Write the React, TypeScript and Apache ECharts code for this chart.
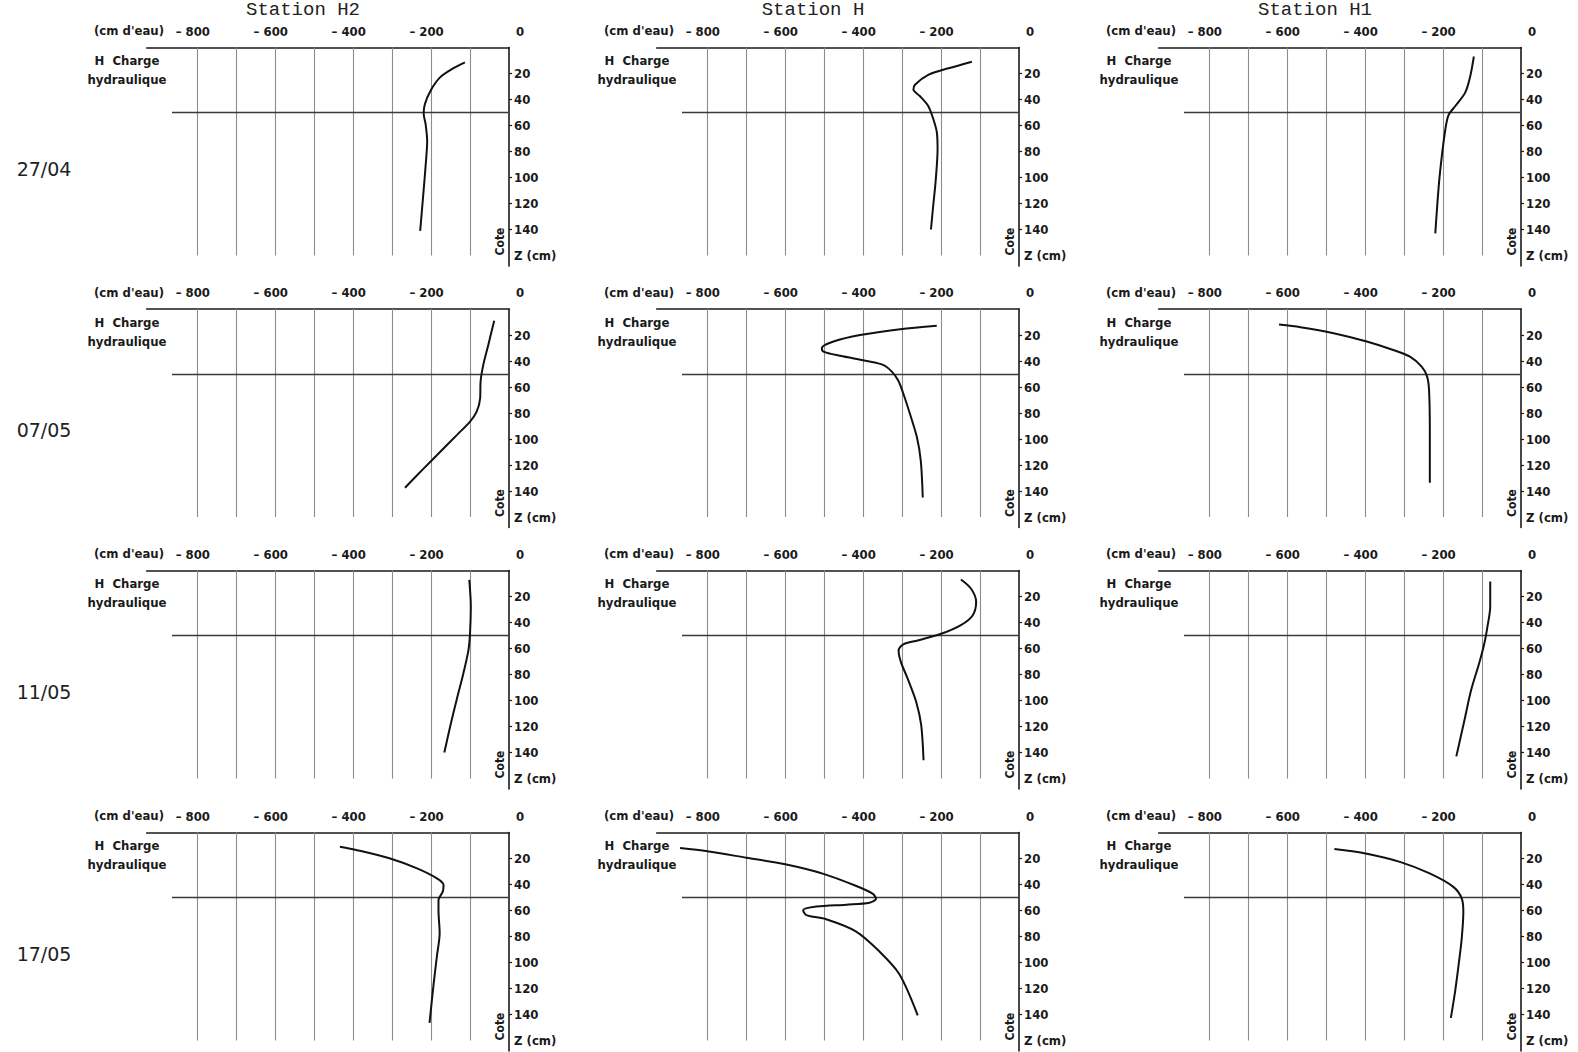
import React, { useEffect, useRef } from "react";
import * as echarts from "echarts";

// ---------- data ----------
const stations = ["Station H2", "Station H", "Station H1"];
const dates = ["27/04", "07/05", "11/05", "17/05"];
const xLabelValues = [-800, -600, -400, -200, 0];
const gridValues = [-800, -700, -600, -500, -400, -300, -200, -100];
const zTicks = [20, 40, 60, 80, 100, 120, 140];
const waterTableZ = 50;
const waterTableStart = -865;
const xMin = -930;
const zMax = 168;
const gridLineEnd = 160;

// [charge hydraulique (cm d'eau), cote Z (cm)]
const h2_2704 = [[-113, 11.5], [-147, 16.7], [-177, 23], [-201, 33], [-216, 43.6], [-219, 51], [-214, 59], [-210, 72], [-213, 87], [-220, 113], [-228, 141]];
const h_2704 = [[-121, 10.9], [-181, 16], [-233, 21], [-267, 28.6], [-271, 32.4], [-254, 37.5], [-233, 45], [-220, 55], [-211, 65], [-209, 78], [-214, 103], [-220, 121], [-226, 140]];
const h1_2704 = [[-121, 6.9], [-130, 21.7], [-143, 34.5], [-168, 44.8], [-186, 52], [-194, 62.7], [-203, 83], [-211, 106], [-220, 143]];

const h2_0705 = [[-38, 9], [-53, 27.5], [-66, 43], [-73, 56], [-74, 68.6], [-83, 79], [-100, 86.6], [-134, 97], [-177, 110], [-220, 123], [-267, 137.5]];
const h_0705 = [[-211, 12.9], [-305, 15.5], [-408, 20], [-476, 25], [-506, 30], [-502, 32.8], [-459, 36], [-391, 40], [-349, 43], [-327, 48], [-310, 55], [-297, 65], [-280, 80.6], [-262, 98.7], [-252, 117], [-247, 145]];
const h1_0705 = [[-621, 12], [-566, 14], [-481, 18.6], [-396, 25], [-328, 31.5], [-285, 36.7], [-255, 44.4], [-241, 52], [-236, 62.5], [-234, 93.5], [-234, 133.6]];

const h2_1105 = [[-102, 7.2], [-98, 27.6], [-100, 48], [-104, 61], [-117, 79], [-134, 99], [-151, 120], [-166, 140]];
const h_1105 = [[-149, 6.9], [-123, 14], [-110, 24], [-119, 34.6], [-149, 42], [-200, 48.7], [-260, 53.8], [-298, 57], [-309, 61.5], [-303, 70.5], [-286, 83], [-264, 101], [-251, 119], [-245, 146]];
const h1_1105 = [[-79, 8.5], [-79, 27.7], [-86, 43], [-94, 56], [-107, 71], [-128, 92], [-145, 115], [-166, 143]];

const h2_1705 = [[-434, 11], [-390, 13.6], [-305, 20], [-236, 27.6], [-185, 35.3], [-168, 40.4], [-170, 45.5], [-181, 52], [-181, 59.6], [-178, 77.5], [-185, 95], [-194, 118], [-204, 146.5]];
const h_1705 = [[-870, 11.9], [-800, 14.4], [-700, 19.4], [-600, 24.5], [-500, 32], [-419, 41], [-376, 47], [-367, 51], [-384, 54], [-443, 55.5], [-520, 57], [-554, 59.8], [-546, 63.6], [-495, 66.7], [-419, 76], [-360, 91], [-307, 109], [-260, 140.6]];
const h1_1705 = [[-479, 12.7], [-402, 16], [-309, 22.8], [-233, 31.7], [-173, 42], [-152, 50.8], [-148, 61], [-152, 81], [-160, 101.5], [-169, 122], [-180, 142.6]];

const profiles = [
  [h2_2704, h_2704, h1_2704],
  [h2_0705, h_0705, h1_0705],
  [h2_1105, h_1105, h1_1105],
  [h2_1705, h_1705, h1_1705],
];

// ---------- layout ----------
const colX0 = [509, 1019, 1521];
const rowY0 = [47.5, 309, 570.5, 832.5];
const pxPerH = 0.3896;
const pxPerZ = 1.3;

const narrow = "'Liberation Sans Narrow', 'DejaVu Sans Condensed', 'Arial Narrow', sans-serif";
const ink = "#1a1a1a";

function buildOption() {
  const grid: any[] = [];
  const xAxis: any[] = [];
  const yAxis: any[] = [];
  const series: any[] = [];
  const graphic: any[] = [];
  const labelFont = { fontFamily: narrow, fontSize: 13, fontWeight: "bold", color: ink };

  stations.forEach((st, c) => {
    graphic.push({
      type: "text",
      x: colX0[c] - 206,
      y: 10,
      style: {
        text: st,
        fontFamily: "'Liberation Mono', 'DejaVu Sans Mono', monospace",
        fontSize: 19,
        fill: "#222",
        textAlign: "center",
        textVerticalAlign: "middle",
        align: "center",
        verticalAlign: "middle",
      },
    });
  });

  dates.forEach((d, r) => {
    graphic.push({
      type: "text",
      x: 44,
      y: rowY0[r] + 121,
      style: {
        text: d,
        fontFamily: "'DejaVu Sans', sans-serif",
        fontSize: 19,
        fill: "#222",
        textAlign: "center",
        textVerticalAlign: "middle",
        align: "center",
        verticalAlign: "middle",
      },
    });
  });

  let idx = 0;
  for (let r = 0; r < dates.length; r++) {
    for (let c = 0; c < stations.length; c++) {
      const x0 = colX0[c];
      const y0 = rowY0[r];
      const w = -xMin * pxPerH;
      const h = zMax * pxPerZ;
      grid.push({ left: x0 - w, top: y0, width: w, height: h });
      xAxis.push({
        type: "value",
        gridIndex: idx,
        position: "top",
        min: xMin,
        max: 0,
        axisLine: { show: true, onZero: false, lineStyle: { color: ink, width: 1.6 } },
        axisTick: { show: false },
        splitLine: { show: false },
        axisLabel: {
          customValues: xLabelValues,
          margin: 10,
          ...labelFont,
          formatter: (v: number) => (v === 0 ? "{z|0}" : "{n|– " + Math.abs(v) + "}"),
          rich: {
            n: { ...labelFont, padding: [0, 9, 0, 0] },
            z: { ...labelFont, padding: [0, 0, 0, 22] },
          },
        },
      });
      yAxis.push({
        type: "value",
        gridIndex: idx,
        position: "right",
        inverse: true,
        min: 0,
        max: zMax,
        interval: 20,
        axisLine: { show: true, onZero: false, lineStyle: { color: ink, width: 1.6 } },
        axisTick: { show: true, length: 3, customValues: zTicks, lineStyle: { color: ink, width: 1.2 } },
        splitLine: { show: false },
        axisLabel: {
          margin: 5,
          ...labelFont,
          formatter: (v: number) => (v === 160 ? "Z (cm)" : v === 0 ? "" : String(v)),
        },
      });
      series.push({
        type: "lines",
        coordinateSystem: "cartesian2d",
        xAxisIndex: idx,
        yAxisIndex: idx,
        silent: true,
        z: 1,
        lineStyle: { color: "#8c8c8c", width: 1.1, opacity: 1 },
        data: gridValues.map((v) => ({ coords: [[v, 0], [v, gridLineEnd]] })),
      });
      series.push({
        type: "lines",
        coordinateSystem: "cartesian2d",
        xAxisIndex: idx,
        yAxisIndex: idx,
        silent: true,
        z: 2,
        lineStyle: { color: "#3a3a3a", width: 1.3, opacity: 1 },
        data: [{ coords: [[waterTableStart, waterTableZ], [0, waterTableZ]] }],
      });
      series.push({
        type: "line",
        xAxisIndex: idx,
        yAxisIndex: idx,
        data: profiles[r][c],
        smooth: 0.3,
        showSymbol: false,
        symbol: "none",
        z: 3,
        lineStyle: { color: "#111", width: 2 },
      });

      const textBase = {
        fontFamily: narrow,
        fontWeight: "bold",
        fill: ink,
        textAlign: "center",
        textVerticalAlign: "middle",
        align: "center",
        verticalAlign: "middle",
      };
      graphic.push({ type: "text", x: x0 - 380, y: y0 - 17, style: { ...textBase, text: "(cm d'eau)", fontSize: 13 } });
      graphic.push({ type: "text", x: x0 - 382, y: y0 + 13, style: { ...textBase, text: "H  Charge", fontSize: 13 } });
      graphic.push({ type: "text", x: x0 - 382, y: y0 + 32, style: { ...textBase, text: "hydraulique", fontSize: 13 } });
      graphic.push({
        type: "text",
        x: x0 - 9,
        y: y0 + 194,
        rotation: Math.PI / 2,
        style: { ...textBase, text: "Cote", fontSize: 12 },
      });
      idx++;
    }
  }

  return {
    animation: false,
    backgroundColor: "#ffffff",
    grid,
    xAxis,
    yAxis,
    series,
    graphic,
  };
}

export default function App() {
  const ref = useRef<HTMLDivElement>(null);
  useEffect(() => {
    if (!ref.current) return;
    const chart = echarts.init(ref.current, null, { renderer: "svg" });
    chart.setOption(buildOption() as any);
    return () => chart.dispose();
  }, []);
  return (
    <div
      ref={ref}
      style={{ position: "fixed", left: 0, top: 0, width: 1578, height: 1052, background: "#fff" }}
    />
  );
}
